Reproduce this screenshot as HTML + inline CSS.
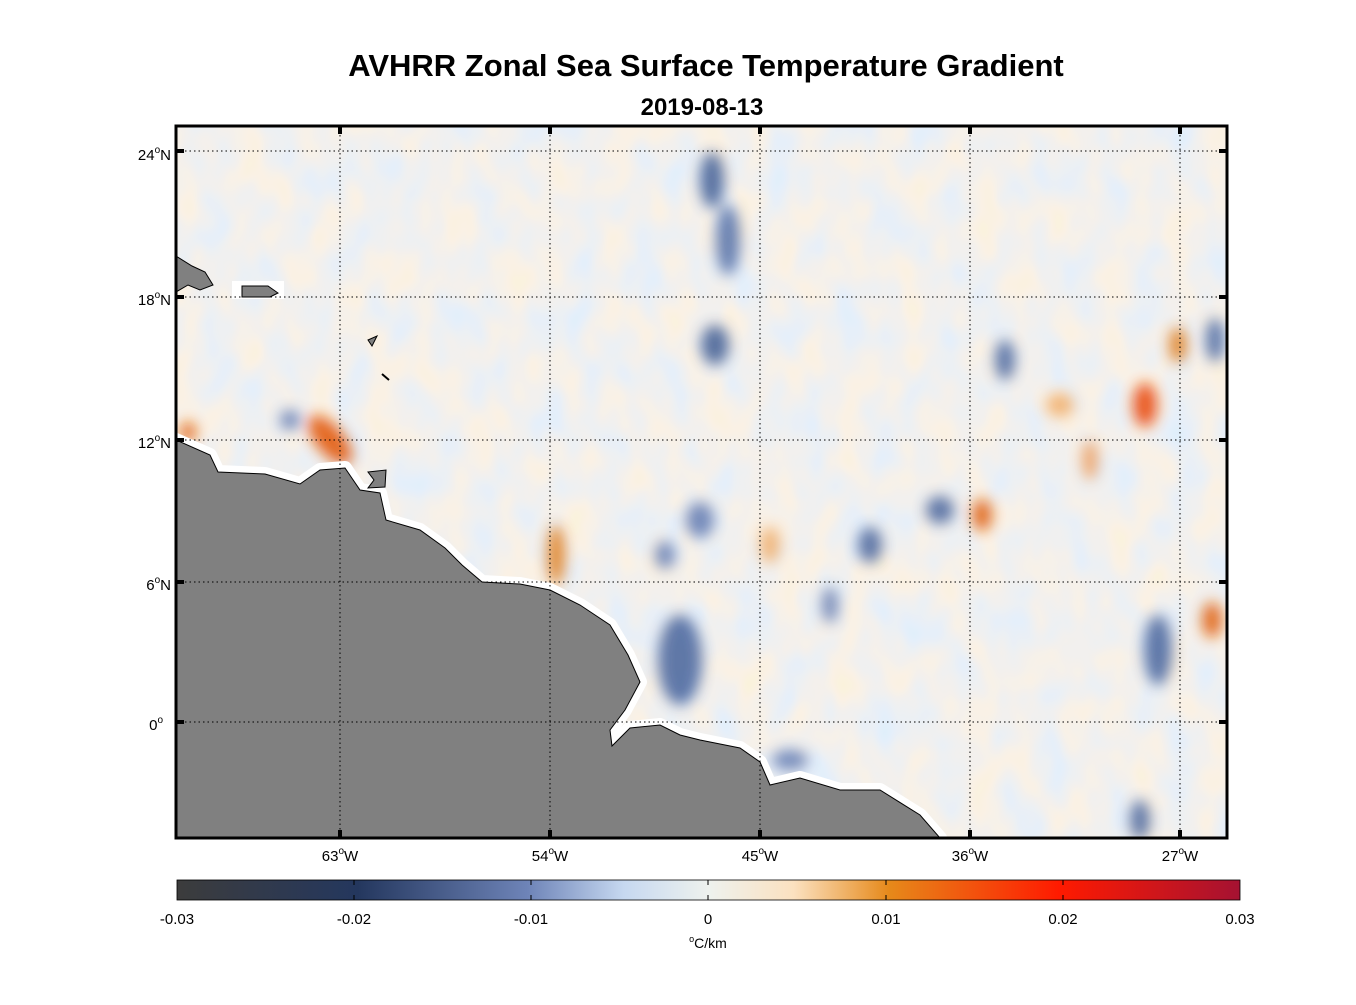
<!DOCTYPE html>
<html><head><meta charset="utf-8"><style>
body{margin:0;background:#fff;width:1356px;height:1000px;overflow:hidden;font-family:"Liberation Sans",sans-serif}
</style></head><body>
<svg width="1356" height="1000" xmlns="http://www.w3.org/2000/svg" font-family="Liberation Sans, sans-serif">
<defs>
<filter id="b" x="-50%" y="-50%" width="200%" height="200%"><feGaussianBlur stdDeviation="7"/></filter>
<filter id="n" x="0" y="0" width="100%" height="100%">
<feTurbulence type="fractalNoise" baseFrequency="0.03 0.02" numOctaves="2" seed="7"/>
<feColorMatrix type="matrix" values="0.5 0 0 0 0.65  0.05 0 0 0 0.845  -0.5 0 0 0 1.1  0 0 0 0 0.7"/>
</filter>
<clipPath id="c"><rect x="176" y="126" width="1051" height="712"/></clipPath>
<linearGradient id="cb" x1="0" x2="1">
<stop offset="0" stop-color="#3c3c3c"/><stop offset="0.17" stop-color="#24375e"/><stop offset="0.33" stop-color="#6e84b8"/>
<stop offset="0.42" stop-color="#c6d8f0"/><stop offset="0.5" stop-color="#eef2ee"/><stop offset="0.58" stop-color="#fbe1c0"/>
<stop offset="0.67" stop-color="#e6891a"/><stop offset="0.83" stop-color="#ff1a00"/><stop offset="1" stop-color="#a51232"/>
</linearGradient>
</defs>
<text x="706" y="76" text-anchor="middle" font-size="31" font-weight="bold">AVHRR Zonal Sea Surface Temperature Gradient</text>
<text x="702" y="115" text-anchor="middle" font-size="24" font-weight="bold">2019-08-13</text>
<g clip-path="url(#c)">
<rect x="176" y="126" width="1051" height="712" fill="#eef1ef"/>
<rect x="176" y="126" width="1051" height="712" filter="url(#n)"/>
<g filter="url(#b)" opacity="0.9">
<ellipse cx="712" cy="180" rx="12" ry="28" fill="#4a6396"/>
<ellipse cx="728" cy="240" rx="12" ry="35" fill="#5a75aa"/>
<ellipse cx="715" cy="345" rx="14" ry="20" fill="#4a6396"/>
<ellipse cx="330" cy="440" rx="14" ry="30" fill="#e25a10" transform="rotate(-40 330 440)"/>
<ellipse cx="556" cy="555" rx="9" ry="30" fill="#e08020"/>
<ellipse cx="680" cy="660" rx="22" ry="45" fill="#4f6aa0"/>
<ellipse cx="700" cy="520" rx="14" ry="18" fill="#6880b5"/>
<ellipse cx="665" cy="555" rx="10" ry="14" fill="#6880b5"/>
<ellipse cx="870" cy="545" rx="12" ry="18" fill="#4f6aa0"/>
<ellipse cx="940" cy="510" rx="14" ry="14" fill="#4f6aa0"/>
<ellipse cx="982" cy="515" rx="10" ry="16" fill="#e06010"/>
<ellipse cx="1145" cy="405" rx="12" ry="22" fill="#e84a10"/>
<ellipse cx="1178" cy="345" rx="9" ry="18" fill="#e08020"/>
<ellipse cx="1212" cy="620" rx="10" ry="18" fill="#e06010"/>
<ellipse cx="1158" cy="650" rx="14" ry="35" fill="#4f6aa0"/>
<ellipse cx="1215" cy="340" rx="9" ry="22" fill="#4f6aa0"/>
<ellipse cx="1005" cy="360" rx="10" ry="20" fill="#4f6aa0"/>
<ellipse cx="830" cy="605" rx="8" ry="18" fill="#6880b5"/>
<ellipse cx="770" cy="545" rx="10" ry="18" fill="#f0b070"/>
<ellipse cx="1060" cy="405" rx="14" ry="12" fill="#f0b070"/>
<ellipse cx="1140" cy="820" rx="10" ry="20" fill="#4f6aa0"/>
<ellipse cx="790" cy="760" rx="18" ry="10" fill="#6880b5"/>
<ellipse cx="290" cy="420" rx="10" ry="10" fill="#6880b5"/>
<ellipse cx="1090" cy="460" rx="8" ry="20" fill="#f0a060"/>
<ellipse cx="188" cy="432" rx="8" ry="10" fill="#e06010"/>
</g>
<path d="M176,440 L210,455 L218,472 L265,474 L300,484 L320,470 L345,468 L360,490 L380,493 L386,520 L420,530 L445,548 L462,565 L482,582 L520,584 L550,590 L580,605 L610,625 L628,655 L640,682 L625,710 L610,730 L612,746 L630,728 L660,725 L680,735 L700,740 L740,748 L760,762 L770,785 L800,778 L840,790 L880,790 L920,815 L940,838 L176,838 Z" fill="#fff" stroke="#fff" stroke-width="14" stroke-linejoin="round"/>
<path d="M176,440 L210,455 L218,472 L265,474 L300,484 L320,470 L345,468 L360,490 L380,493 L386,520 L420,530 L445,548 L462,565 L482,582 L520,584 L550,590 L580,605 L610,625 L628,655 L640,682 L625,710 L610,730 L612,746 L630,728 L660,725 L680,735 L700,740 L740,748 L760,762 L770,785 L800,778 L840,790 L880,790 L920,815 L940,838 L176,838 Z" fill="#808080" stroke="#000" stroke-width="1"/>
<path d="M368,472 L386,470 L385,487 L368,488 L374,480 Z" fill="#808080" stroke="#000"/>
<rect x="232" y="281" width="52" height="18" fill="#fff"/>
<path d="M242,286 L268,286 L278,293 L270,297 L242,297 Z" fill="#808080" stroke="#000"/>
<path d="M176,256 L192,266 L205,272 L213,285 L200,290 L188,285 L176,292 Z" fill="#808080" stroke="#000"/>
<path d="M368,340 L377,336 L372,346 Z" fill="#808080" stroke="#000"/>
<path d="M382,374 L389,380" stroke="#000" stroke-width="2"/>
</g>
<g stroke="#000" stroke-width="1" stroke-dasharray="1.5,3">
<line x1="340" y1="126" x2="340" y2="838"/><line x1="550" y1="126" x2="550" y2="838"/><line x1="760" y1="126" x2="760" y2="838"/><line x1="970" y1="126" x2="970" y2="838"/><line x1="1180" y1="126" x2="1180" y2="838"/>
<line x1="176" y1="151" x2="1227" y2="151"/><line x1="176" y1="297" x2="1227" y2="297"/><line x1="176" y1="440" x2="1227" y2="440"/><line x1="176" y1="582" x2="1227" y2="582"/><line x1="176" y1="722" x2="1227" y2="722"/>
</g>
<rect x="176" y="126" width="1051" height="712" fill="none" stroke="#000" stroke-width="3"/>
<g stroke="#000" stroke-width="4">
<path d="M340,126v8M550,126v8M760,126v8M970,126v8M1180,126v8M340,838v-8M550,838v-8M760,838v-8M970,838v-8M1180,838v-8"/>
<path d="M176,151h8M176,297h8M176,440h8M176,582h8M176,722h8M1227,151h-8M1227,297h-8M1227,440h-8M1227,582h-8M1227,722h-8"/>
</g>
<g font-size="15" text-anchor="end">
<text x="171" y="160">24<tspan font-size="10" dy="-7">o</tspan><tspan dy="7">N</tspan></text>
<text x="171" y="305">18<tspan font-size="10" dy="-7">o</tspan><tspan dy="7">N</tspan></text>
<text x="171" y="448">12<tspan font-size="10" dy="-7">o</tspan><tspan dy="7">N</tspan></text>
<text x="171" y="590">6<tspan font-size="10" dy="-7">o</tspan><tspan dy="7">N</tspan></text>
<text x="163" y="730">0<tspan font-size="10" dy="-7">o</tspan></text>
</g>
<g font-size="15" text-anchor="middle">
<text x="340" y="861">63<tspan font-size="10" dy="-7">o</tspan><tspan dy="7">W</tspan></text>
<text x="550" y="861">54<tspan font-size="10" dy="-7">o</tspan><tspan dy="7">W</tspan></text>
<text x="760" y="861">45<tspan font-size="10" dy="-7">o</tspan><tspan dy="7">W</tspan></text>
<text x="970" y="861">36<tspan font-size="10" dy="-7">o</tspan><tspan dy="7">W</tspan></text>
<text x="1180" y="861">27<tspan font-size="10" dy="-7">o</tspan><tspan dy="7">W</tspan></text>
</g>
<rect x="177" y="880" width="1063" height="20" fill="url(#cb)" stroke="#000" stroke-width="0.8"/>
<g stroke="#000"><path d="M354,900v-5M531,900v-5M708,900v-5M886,900v-5M1063,900v-5M354,880v5M531,880v5M708,880v5M886,880v5M1063,880v5"/></g>
<g font-size="15" text-anchor="middle">
<text x="177" y="924">-0.03</text><text x="354" y="924">-0.02</text><text x="531" y="924">-0.01</text><text x="708" y="924">0</text>
<text x="886" y="924">0.01</text><text x="1063" y="924">0.02</text><text x="1240" y="924">0.03</text>
<text x="708" y="948" font-size="14"><tspan font-size="9" dy="-6">o</tspan><tspan dy="6">C/km</tspan></text>
</g>
</svg>
</body></html>
